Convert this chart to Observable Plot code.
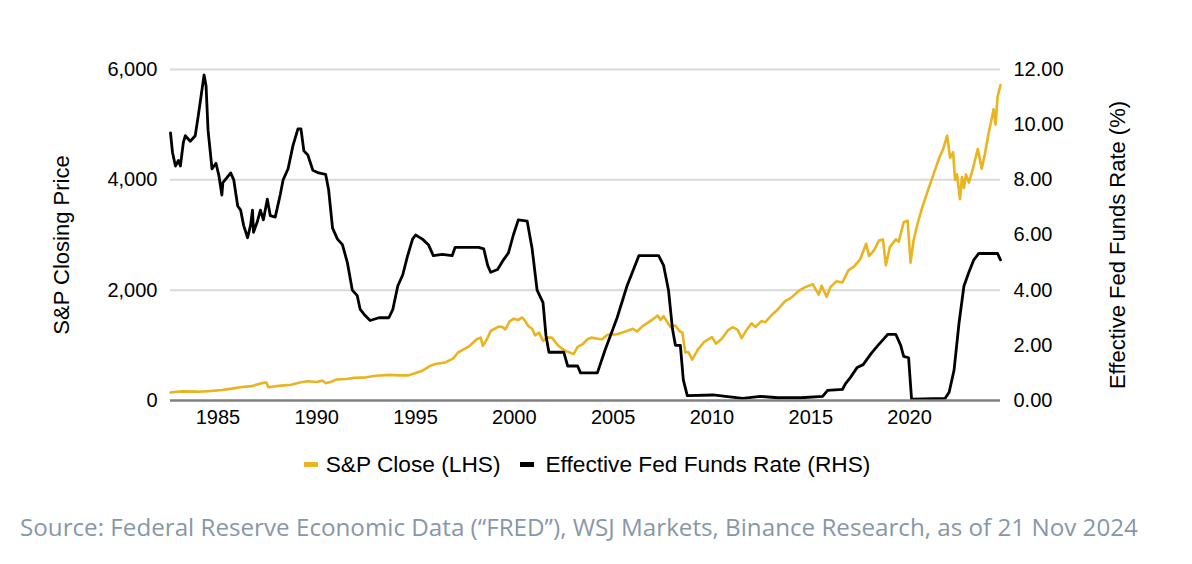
<!DOCTYPE html>
<html>
<head>
<meta charset="utf-8">
<script src="https://cdn.jsdelivr.net/npm/d3@7"></script>
<script src="https://cdn.jsdelivr.net/npm/@observablehq/plot@0.6"></script>
<style>
  html, body { margin: 0; padding: 0; background: #fff; }
  #wrap { position: relative; width: 1192px; height: 564px; overflow: hidden; font-family: "Liberation Sans", Arial, sans-serif; }
  #chart { position: absolute; left: 0; top: 0; }
  #legend { position: absolute; left: 0; top: 451px; width: 1174px; display: flex; justify-content: center; align-items: center; font-size: 22.7px; color: #000; }
  .item { display: flex; align-items: center; }
  .item:first-child { margin-right: 20px; }
  .sw { width: 14px; height: 5px; margin-right: 8px; }
  .item:last-child .sw { margin-right: 11px; }
  #caption { position: absolute; left: 20px; top: 510px; white-space: nowrap; font-family: "Open Sans", sans-serif; font-size: 20px; color: #8797aa; }
</style>
</head>
<body>
<div id="wrap">
  <div id="chart"></div>
  <div id="legend"></div>
  <div id="caption"></div>
</div>
<script>
// ---- data ----
const yearTicks = [1985, 1990, 1995, 2000, 2005, 2010, 2015, 2020];
const priceTicks = [0, 2000, 4000, 6000];
const rateTicks = [0, 2, 4, 6, 8, 10, 12];
const seriesNames = ["S&P Close (LHS)", "Effective Fed Funds Rate (RHS)"];
const seriesColors = ["#EAB421", "#000000"];
const leftTitle = "S&P Closing Price";
const rightTitle = "Effective Fed Funds Rate (%)";
const captionText = "Source: Federal Reserve Economic Data (\u201CFRED\u201D), WSJ Markets, Binance Research, as of 21 Nov 2024";

// Effective Fed Funds Rate (%): [year, rate]
const fedFunds = [
  [1982.6, 9.7], [1982.7, 9.0], [1982.85, 8.5], [1983.0, 8.7], [1983.1, 8.5], [1983.25, 9.35], [1983.35, 9.6],
  [1983.6, 9.4], [1983.85, 9.6], [1984.0, 10.3], [1984.15, 11.05], [1984.3, 11.8], [1984.4, 11.4], [1984.5, 9.8],
  [1984.7, 8.4], [1984.9, 8.6], [1985.05, 8.15], [1985.2, 7.45], [1985.25, 7.9], [1985.65, 8.25], [1985.8, 8.0],
  [1986.0, 7.05], [1986.15, 6.9], [1986.3, 6.35], [1986.5, 5.9], [1986.65, 6.35], [1986.75, 6.9], [1986.8, 6.1],
  [1987.0, 6.5], [1987.15, 6.9], [1987.3, 6.55], [1987.5, 7.3], [1987.65, 6.7], [1987.9, 6.65], [1988.15, 7.45],
  [1988.3, 8.0], [1988.55, 8.4], [1988.8, 9.25], [1989.05, 9.85], [1989.2, 9.85], [1989.35, 9.05], [1989.55, 8.9],
  [1989.8, 8.35], [1990.1, 8.25], [1990.45, 8.2], [1990.6, 7.65], [1990.8, 6.25], [1991.05, 5.85], [1991.3, 5.65],
  [1991.55, 5.0], [1991.8, 4.0], [1992.05, 3.8], [1992.2, 3.3], [1992.45, 3.08], [1992.7, 2.9], [1993.15, 3.0],
  [1993.65, 3.0], [1993.85, 3.3], [1994.1, 4.15], [1994.35, 4.55], [1994.6, 5.25], [1994.85, 5.85], [1995.0, 6.0],
  [1995.35, 5.85], [1995.65, 5.65], [1995.9, 5.25], [1996.35, 5.3], [1996.85, 5.25], [1997.0, 5.55], [1997.7, 5.55],
  [1998.2, 5.55], [1998.45, 5.5], [1998.65, 4.9], [1998.8, 4.65], [1999.15, 4.75], [1999.45, 5.1], [1999.7, 5.35],
  [1999.95, 6.0], [2000.2, 6.55], [2000.65, 6.5], [2000.9, 5.5], [2001.15, 4.0], [2001.45, 3.55], [2001.6, 2.35],
  [2001.75, 1.75], [2002.5, 1.75], [2002.7, 1.25], [2003.2, 1.25], [2003.35, 1.0], [2004.2, 1.0], [2004.6, 1.85],
  [2005.2, 3.0], [2005.7, 4.15], [2006.3, 5.25], [2007.3, 5.25], [2007.55, 4.9], [2007.8, 4.0], [2008.0, 2.6],
  [2008.15, 2.0], [2008.4, 2.0], [2008.55, 0.75], [2008.75, 0.18], [2010.05, 0.2], [2011.55, 0.08], [2012.45, 0.15],
  [2013.35, 0.1], [2014.5, 0.1], [2015.6, 0.15], [2015.85, 0.37], [2016.6, 0.4], [2016.75, 0.6], [2017.0, 0.83],
  [2017.35, 1.2], [2017.65, 1.3], [2018.05, 1.7], [2018.4, 2.0], [2018.65, 2.2], [2018.9, 2.4], [2019.3, 2.4],
  [2019.55, 2.0], [2019.7, 1.6], [2019.95, 1.55], [2020.1, 0.05], [2021.8, 0.08], [2022.0, 0.3], [2022.25, 1.1],
  [2022.5, 2.8], [2022.75, 4.15], [2023.0, 4.65], [2023.25, 5.1], [2023.5, 5.33], [2024.45, 5.33], [2024.6, 5.1]
];

// S&P 500 close: [year, close]
const spClose = [
  [1982.6, 145], [1983.2, 165], [1984.0, 160], [1984.7, 175], [1985.2, 190], [1985.7, 215], [1986.2, 245],
  [1986.7, 260], [1987.3, 320], [1987.45, 325], [1987.55, 240], [1987.7, 250], [1988.2, 270], [1988.7, 285],
  [1989.2, 330], [1989.55, 350], [1990.0, 335], [1990.3, 360], [1990.45, 315], [1990.7, 335], [1991.0, 380],
  [1991.5, 390], [1991.9, 410], [1992.5, 420], [1993.0, 448], [1993.7, 465], [1994.2, 455], [1994.65, 455],
  [1995.0, 500], [1995.35, 540], [1995.7, 620], [1996.0, 660], [1996.5, 690], [1996.9, 760], [1997.15, 870],
  [1997.5, 940], [1997.7, 980], [1998.1, 1110], [1998.3, 1140], [1998.4, 990], [1998.6, 1100], [1998.8, 1260],
  [1999.2, 1340], [1999.4, 1330], [1999.55, 1290], [1999.75, 1430], [1999.95, 1480], [2000.2, 1460], [2000.4, 1505],
  [2000.55, 1440], [2000.7, 1350], [2000.9, 1300], [2001.05, 1180], [2001.25, 1230], [2001.45, 1080], [2001.65, 1140],
  [2001.9, 1140], [2002.2, 1000], [2002.45, 930], [2002.65, 890], [2002.8, 870], [2003.0, 840], [2003.2, 970],
  [2003.45, 1020], [2003.7, 1110], [2003.9, 1140], [2004.2, 1120], [2004.45, 1110], [2004.7, 1190], [2005.2, 1200],
  [2005.7, 1260], [2006.0, 1300], [2006.2, 1250], [2006.5, 1350], [2006.8, 1420], [2007.0, 1470], [2007.25, 1540],
  [2007.4, 1460], [2007.55, 1530], [2007.7, 1440], [2007.9, 1330], [2008.15, 1360], [2008.35, 1260], [2008.5, 1233],
  [2008.65, 870], [2008.8, 880], [2009.0, 740], [2009.3, 930], [2009.6, 1060], [2010.0, 1150], [2010.2, 1030],
  [2010.5, 1120], [2010.8, 1270], [2011.05, 1330], [2011.3, 1280], [2011.5, 1130], [2011.7, 1250], [2012.0, 1400],
  [2012.2, 1330], [2012.5, 1440], [2012.7, 1420], [2013.05, 1560], [2013.3, 1640], [2013.7, 1800], [2014.0, 1860],
  [2014.4, 1990], [2014.7, 2050], [2015.1, 2110], [2015.4, 1920], [2015.55, 2080], [2015.8, 1880], [2016.0, 2060],
  [2016.3, 2160], [2016.6, 2140], [2016.9, 2360], [2017.2, 2430], [2017.5, 2560], [2017.8, 2840], [2017.95, 2620],
  [2018.2, 2720], [2018.45, 2900], [2018.65, 2920], [2018.8, 2450], [2019.0, 2780], [2019.3, 2920], [2019.45, 2880],
  [2019.7, 3230], [2019.9, 3260], [2020.05, 2500], [2020.2, 2900], [2020.4, 3200], [2020.6, 3450], [2020.9, 3780],
  [2021.25, 4140], [2021.5, 4400], [2021.7, 4560], [2021.9, 4800], [2022.05, 4400], [2022.2, 4500], [2022.3, 4000],
  [2022.4, 4100], [2022.55, 3650], [2022.65, 4050], [2022.75, 3850], [2022.85, 4100], [2023.0, 3950], [2023.2, 4200],
  [2023.45, 4560], [2023.65, 4200], [2023.8, 4450], [2024.0, 4850], [2024.15, 5100], [2024.25, 5280], [2024.35, 5000],
  [2024.45, 5500], [2024.6, 5720]
];

// ---- drawing ----
const rateToPrice = 6000 / 12; // right axis maps 0-12% onto left 0-6000

const chart = Plot.plot({
  width: 1192,
  height: 440,
  marginLeft: 170,
  marginRight: 192,
  marginTop: 69,
  marginBottom: 40,
  style: { fontFamily: "Liberation Sans, Arial, sans-serif", fontSize: "20px", color: "#000", background: "#fff" },
  x: { domain: [1982.6, 2024.6], label: null },
  y: { domain: [0, 6000], label: null },
  marks: [
    Plot.gridY(priceTicks.slice(1), { stroke: "#d9d9d9", strokeOpacity: 1, strokeWidth: 2 }),
    Plot.axisX({ ticks: yearTicks, tickSize: 0, tickPadding: 9, tickFormat: d => String(d), label: null, fontSize: 20 }),
    Plot.axisY({ anchor: "left", ticks: priceTicks, tickSize: 0, tickPadding: 13, tickFormat: d3.format(","), label: null, fontSize: 20 }),
    Plot.axisY({ anchor: "right", ticks: rateTicks.map(r => r * rateToPrice), tickSize: 0, tickPadding: 13,
                 tickFormat: d => (d / rateToPrice).toFixed(2), label: null, fontSize: 20 }),
    Plot.text([leftTitle], { frameAnchor: "left", dx: -109, dy: 10, rotate: -90, fontSize: 22, textAnchor: "middle" }),
    Plot.text([rightTitle], { frameAnchor: "right", dx: 117, dy: 10, rotate: -90, fontSize: 22, textAnchor: "middle" }),
    Plot.line(spClose, { x: d => d[0], y: d => d[1], stroke: seriesColors[0], strokeWidth: 2.6 }),
    Plot.line(fedFunds, { x: d => d[0], y: d => d[1] * rateToPrice, stroke: seriesColors[1], strokeWidth: 2.8 }),
    Plot.ruleY([0], { stroke: "#7f7f7f", strokeWidth: 2.5 })
  ]
});
document.getElementById("chart").appendChild(chart);

// legend
const legend = document.getElementById("legend");
seriesNames.forEach((name, i) => {
  const it = document.createElement("div");
  it.className = "item";
  const sw = document.createElement("span");
  sw.className = "sw";
  sw.style.background = seriesColors[i];
  const tx = document.createElement("span");
  tx.textContent = name;
  it.appendChild(sw);
  it.appendChild(tx);
  legend.appendChild(it);
});

// caption, fitted to the reference width
const cap = document.getElementById("caption");
cap.textContent = captionText;
const targetW = 1118;
const w = cap.getBoundingClientRect().width;
if (w > 0) cap.style.fontSize = (20 * targetW / w).toFixed(2) + "px";
</script>
</body>
</html>
